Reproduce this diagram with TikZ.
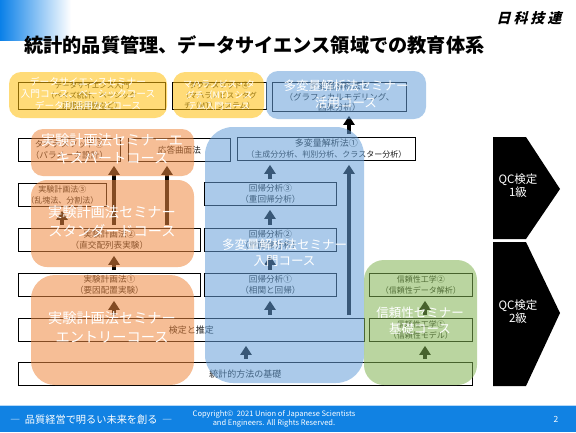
\documentclass[tikz,border=0pt]{standalone}
\usepackage{fontspec}
\setmainfont{Noto Sans CJK JP}
\newfontfamily\logofont[FakeSlant=0.25]{Noto Sans CJK JP}
\usetikzlibrary{arrows.meta}
\definecolor{topblue}{HTML}{0A80E8}
\definecolor{barblue}{HTML}{1182E3}
\definecolor{ytone}{HTML}{FFBF0A}
\definecolor{otone}{HTML}{EF8940}
\definecolor{btone}{HTML}{66A0D9}
\definecolor{gtone}{HTML}{82B452}
\tikzset{
  x=1pt,y=-1pt,
  item/.style={draw=black,fill=white,line width=0.8pt,minimum width=#1,anchor=north west,inner sep=0pt,align=center,font=\fontsize{8.6}{11}\selectfont,text=black!90,minimum height=23pt},
  area/.style={fill=#1,fill opacity=0.55,rounded corners=12pt,draw=none},
  big/.style 2 args={text=white,align=center,font=\fontsize{#1}{#2}\selectfont},
  up/.style={line width=3.2pt,draw=black,shorten >=4pt,shorten <=3pt,-{Triangle[length=9pt,width=11pt]}},
  longup/.style={up,line width=4pt},
  qc/.style={fill=black,draw=none},
  qclabel/.style={text=white,align=center,font=\fontsize{11.5}{13}\selectfont},
  foot/.style={text=white,align=center}
}
\begin{document}
\begin{tikzpicture}
\useasboundingbox (0,0) rectangle (576,432);
\fill[white] (0,0) rectangle (576,432);
\shade[left color=topblue,right color=white] (0,0) rectangle (71,40);
\node[anchor=west,inner sep=0pt,font=\fontsize{19.2}{22}\selectfont\bfseries] (title) at (24,45) {統計的品質管理、データサイエンス領域での教育体系};
\node[inner sep=0pt,font=\fontsize{14}{15}\logofont\bfseries] (logo) at (529,18) {日\hspace{3pt}科\hspace{3pt}技\hspace{3pt}連};
% items
\node[item=147pt,font=\fontsize{7.5}{10}\selectfont] (ds) at (18,82) {データサイエンス入門\\（ベイズ統計、ベーシック\\正規化回帰など）};
\node[item=94pt,font=\fontsize{7.5}{10}\selectfont] (mt) at (172,82) {タグチメソッド④\\（マハラノビス・タグ\\チ（MT）システム）};
\node[item=134pt,font=\fontsize{8.5}{10.5}\selectfont] (mv) at (272,82) {多変量解析法②\\（グラフィカルモデリング、\\因果分析）};
\node[item=102pt] (tg) at (18,138) {タグチメソッド③\\（パラメータ設計）};
\node[item=102pt] (rs) at (128,138) {応答曲面法};
\node[item=178pt,font=\fontsize{8}{11}\selectfont] (ma) at (237,137) {{\fontsize{9}{11}\selectfont 多変量解析法①}\\（主成分分析、判別分析、クラスター分析）};
\node[item=88pt,font=\fontsize{8}{11}\selectfont] (d3) at (18,183) {実験計画法③\\（乱塊法、分割法）};
\node[item=182pt] (d2) at (18,228) {実験計画法②\\（直交配列表実験）};
\node[item=182pt] (d1) at (18,273) {実験計画法①\\（要因配置実験）};
\node[item=132pt] (r3) at (204,182) {回帰分析③\\（重回帰分析）};
\node[item=132pt] (r2) at (204,228) {回帰分析②\\（単回帰分析）};
\node[item=132pt] (r1) at (204,273) {回帰分析①\\（相関と回帰）};
\node[item=103pt,font=\fontsize{8}{11}\selectfont] (q2) at (369,273) {信頼性工学②\\（信頼性データ解析）};
\node[item=103pt,font=\fontsize{8}{11}\selectfont] (q1) at (369,318) {信頼性工学①\\（信頼性モデル）};
\node[item=346pt,font=\fontsize{9}{11}\selectfont] (est) at (18,318) {検定と推定};
\node[item=454pt,font=\fontsize{9}{11}\selectfont,text width=440pt,align=left] (base) at (18,362) {\hspace*{184pt}統計的方法の基礎};
% columns
\coordinate (c62) at (62,0);
\coordinate (c114) at (114,0);
\coordinate (c167) at (167,0);
\coordinate (c246) at (246,0);
\coordinate (c270) at (270,0);
\coordinate (c349) at (349,0);
\coordinate (c425) at (425,0);
% arrows
\draw[up] (d2.north -| c62) -- (d3.south -| c62);
\draw[longup] (d2.north -| c114) -- (tg.south -| c114);
\draw[longup] (d2.north -| c167) -- (rs.south -| c167);
\draw[up] (d1.north -| c114) -- (d2.south -| c114);
\draw[up] (est.north -| c114) -- (d1.south -| c114);
\draw[up] (base.north -| c246) -- (est.south -| c246);
\draw[up] (est.north -| c270) -- (r1.south -| c270);
\draw[up] (r1.north -| c270) -- (r2.south -| c270);
\draw[up] (r2.north -| c270) -- (r3.south -| c270);
\draw[up] (r3.north -| c270) -- (ma.south -| c270);
\draw[longup] (est.north -| c349) -- (ma.south -| c349);
\draw[up] (ma.north -| c349) -- (mv.south -| c349);
\draw[up] (base.north -| c425) -- (q1.south -| c425);
\draw[up] (q1.north -| c425) -- (q2.south -| c425);
% translucent course areas
\fill[area=ytone] (9,72) rectangle (167,118);
\fill[area=ytone] (173,72) rectangle (264,118);
\fill[area=btone] (266,71) rectangle (426,119);
\fill[area=otone] (31,129) rectangle (194,176);
\fill[area=otone,rounded corners=16pt] (31,180) rectangle (194,267);
\fill[area=otone,rounded corners=24pt] (31,275) rectangle (194,385);
\fill[area=btone,rounded corners=28pt] (205,127) rectangle (364,383);
\fill[area=gtone,rounded corners=20pt] (364,260) rectangle (477,385);
% course labels
\node[big={9.7}{12}] (lds) at (88,94) {データサイエンスセミナー\\入門コース、ベーシックコース\\データ利活用などコース};
\node[big={9}{11}] (lmt) at (219,95) {マハラノビス・タ\\グチ（MT）シス\\テム入門コース};
\node[big={12.5}{17}] (lmv) at (346,94) {多変量解析法セミナー\\活用コース};
\node[big={14.2}{18.5}] (lex) at (112,149) {実験計画法セミナーエ\\キスパートコース};
\node[big={14.2}{18.5}] (lst) at (112,221.5) {実験計画法セミナー\\スタンダードコース};
\node[big={14.2}{18.5}] (len) at (112,327.5) {実験計画法セミナー\\エントリーコース};
\node[big={12.5}{16}] (lin) at (284.5,253) {多変量解析法セミナー\\入門コース};
\node[big={12.5}{16}] (lrl) at (420,321) {信頼性セミナー\\基礎コース};
% QC
\fill[qc] (493,137) -- (526,137) -- (560,189) -- (526,239) -- (493,239) -- cycle;
\fill[qc] (493,242) -- (526,242) -- (560,313) -- (526,386) -- (493,386) -- cycle;
\node[qclabel] (qa) at (518,186) {QC検定\\1級};
\node[qclabel] (qb) at (518,312) {QC検定\\2級};
% footer
\fill[barblue] (0,406) rectangle (576,432);
\fill[topblue!30] (0,405) rectangle (576,406);
\node[foot,anchor=west,inner sep=0pt,font=\fontsize{10.2}{12}\selectfont] (motto) at (10,420) {―\ \ 品質経営で明るい未来を創る\ \ ―};
\node[foot,font=\fontsize{7.5}{9.6}\selectfont] (copy) at (274,419) {Copyright©\ \ 2021 Union of Japanese Scientists\\and Engineers. All Rights Reserved.};
\node[foot,font=\fontsize{8.5}{10}\selectfont] (page) at (556,419) {2};
\end{tikzpicture}
\end{document}
